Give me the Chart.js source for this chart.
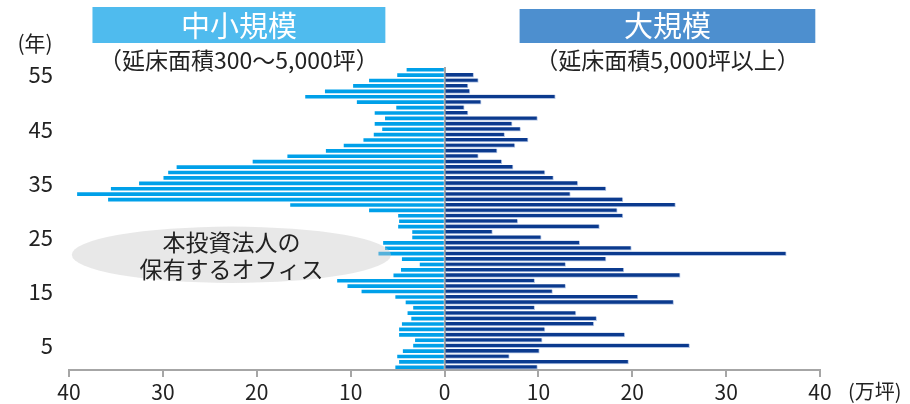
<!DOCTYPE html>
<html lang="ja">
<head>
<meta charset="utf-8">
<title>築年数別 オフィス延床面積</title>
<script src="https://cdn.jsdelivr.net/npm/chart.js@4.4.1/dist/chart.umd.min.js"></script>
<style>
  html, body { margin: 0; padding: 0; background: #ffffff; }
  #wrap { width: 910px; height: 404px; }
</style>
</head>
<body>
<div id="wrap"><canvas id="c" width="910" height="404"></canvas></div>
<script>
// 築年数（年）: 上から 56年 → 1年
const years = ['56','55','54','53','52','51','50','49','48','47','46','45','44','43',
  '42','41','40','39','38','37','36','35','34','33','32','31','30','29','28','27',
  '26','25','24','23','22','21','20','19','18','17','16','15','14','13','12','11',
  '10','9','8','7','6','5','4','3','2','1'];

// 中小規模（延床面積300～5,000坪）, 万坪
const smallMidArea = [4.0, 5.0, 8.0, 9.7, 12.7, 14.8, 9.3, 5.1, 7.4, 6.3,
  7.4, 6.6, 7.5, 8.6, 10.7, 12.6, 16.7, 20.4, 28.5, 29.4,
  29.9, 32.5, 35.5, 39.1, 35.8, 16.4, 8.0, 4.9, 4.8, 4.9,
  3.4, 3.4, 6.5, 6.3, 7.0, 4.5, 2.6, 4.6, 5.4, 11.4,
  10.3, 8.8, 5.2, 4.1, 3.3, 3.9, 3.5, 4.5, 4.8, 4.8,
  3.1, 3.3, 4.4, 5.0, 4.8, 5.2];

// 大規模（延床面積5,000坪以上）, 万坪
const largeArea = [null, 3.1, 3.6, 2.5, 2.7, 11.8, 3.9, 2.1, 2.5, 9.9, 7.2,
  8.1, 6.4, 8.9, 7.5, 5.6, 3.6, 6.1, 7.3, 10.7, 11.6,
  14.2, 17.2, 13.4, 19.0, 24.6, 18.4, 19.0, 7.8, 16.5, 5.1,
  10.3, 14.4, 19.9, 36.4, 17.2, 12.9, 19.1, 25.1, 9.6, 12.9,
  11.5, 20.6, 24.4, 9.6, 14.0, 16.2, 15.9, 10.7, 19.2, 10.4,
  26.1, 10.1, 6.9, 19.6, 9.9];

// 目盛り
const xTickValues = [-40, -30, -20, -10, 0, 10, 20, 30, 40];
const yTickYears = ['55', '45', '35', '25', '15', '5'];

const FONT = "'Noto Sans CJK JP', 'Noto Sans', sans-serif";
const AXIS_GREY = '#a6a6a6';
const TEXT = '#222222';

// 見出し・単位・吹き出しの描画
const decorations = {
  id: 'decorations',
  afterDatasetsDraw(chart) {
    const { ctx, scales: { x, y } } = chart;
    // 本投資法人の保有するオフィス（楕円）
    const cx = x.getPixelForValue(-22.7);
    const cy = y.getPixelForValue(34.2);
    const rx = Math.abs(x.getPixelForValue(17) - x.getPixelForValue(0));
    const ry = Math.abs(y.getPixelForValue(5.2) - y.getPixelForValue(0));
    ctx.save();
    ctx.beginPath();
    ctx.ellipse(cx, cy, rx, ry, 0, 0, Math.PI * 2);
    ctx.fillStyle = 'rgba(200,200,200,0.42)';
    ctx.fill();
    ctx.fillStyle = TEXT;
    ctx.font = `23px ${FONT}`;
    ctx.textAlign = 'center';
    ctx.textBaseline = 'middle';
    ctx.fillText('本投資法人の', cx, cy - 12);
    ctx.fillText('保有するオフィス', cx, cy + 15);
    ctx.restore();
  },
  afterDraw(chart) {
    const { ctx, scales: { x } } = chart;
    ctx.save();
    // 見出しボックス
    const boxes = [
      { from: -37.5, to: -6.3, top: 7, color: '#4fbbee', title: '中小規模', sub: '（延床面積300～5,000坪）' },
      { from: 8.0, to: 39.5, top: 9, color: '#4d8fcf', title: '大規模', sub: '（延床面積5,000坪以上）' }
    ];
    boxes.forEach(b => {
      const l = x.getPixelForValue(b.from);
      const r = x.getPixelForValue(b.to);
      ctx.fillStyle = b.color;
      ctx.fillRect(l, b.top, r - l, 43 - b.top);
      ctx.fillStyle = '#ffffff';
      ctx.font = `29px ${FONT}`;
      ctx.textAlign = 'center';
      ctx.textBaseline = 'middle';
      ctx.fillText(b.title, (l + r) / 2, 26);
      ctx.fillStyle = TEXT;
      ctx.font = `23px ${FONT}`;
      ctx.fillText(b.sub, (l + r) / 2, 60);
    });
    // 単位
    ctx.fillStyle = TEXT;
    ctx.font = `21px ${FONT}`;
    ctx.textAlign = 'center';
    ctx.textBaseline = 'middle';
    ctx.fillText('(年)', 35, 43);
    ctx.textAlign = 'left';
    ctx.font = `20px ${FONT}`;
    ctx.fillText('(万坪)', x.right + 28, 391);
    ctx.restore();
  }
};

new Chart(document.getElementById('c'), {
  type: 'bar',
  data: {
    labels: years,
    datasets: [
      {
        label: '中小規模',
        data: smallMidArea.map(v => (v == null ? null : -v)),
        backgroundColor: '#00a0e9',
        barThickness: 3,
        borderWidth: 0
      },
      {
        label: '大規模',
        data: largeArea,
        backgroundColor: '#0b3a8e',
        borderColor: 'rgba(150,175,220,0.75)',
        borderWidth: { top: 0, right: 1, bottom: 1, left: 0 },
        borderSkipped: false,
        barThickness: 4
      }
    ]
  },
  options: {
    indexAxis: 'y',
    responsive: false,
    animation: false,
    events: [],
    layout: { padding: { top: 67, right: 90, bottom: 0, left: 0 } },
    plugins: {
      legend: { display: false },
      tooltip: { enabled: false }
    },
    scales: {
      x: {
        type: 'linear',
        stacked: true,
        min: -40,
        max: 40,
        afterBuildTicks: s => { s.ticks = xTickValues.map(v => ({ value: v })); },
        afterFit: s => { s.height = 34; },
        ticks: {
          callback: v => String(Math.abs(v)),
          color: TEXT,
          font: { family: FONT, size: 21 },
          padding: 2,
          maxRotation: 0
        },
        grid: {
          color: c => (c.tick && c.tick.value === 0 ? AXIS_GREY : 'rgba(0,0,0,0)'),
          lineWidth: 2,
          tickColor: AXIS_GREY,
          tickWidth: 2,
          tickLength: 7,
          drawOnChartArea: true
        },
        border: { display: true, color: AXIS_GREY, width: 2 }
      },
      y: {
        stacked: true,
        afterFit: s => { s.width = 69; },
        ticks: {
          autoSkip: false,
          callback: function (v, i) {
            const lab = years[i];
            return yTickYears.includes(lab) ? lab : '';
          },
          color: TEXT,
          font: { family: FONT, size: 22 },
          padding: 16
        },
        grid: { display: false, drawTicks: false },
        border: { display: false }
      }
    }
  },
  plugins: [decorations]
});
</script>
</body>
</html>
